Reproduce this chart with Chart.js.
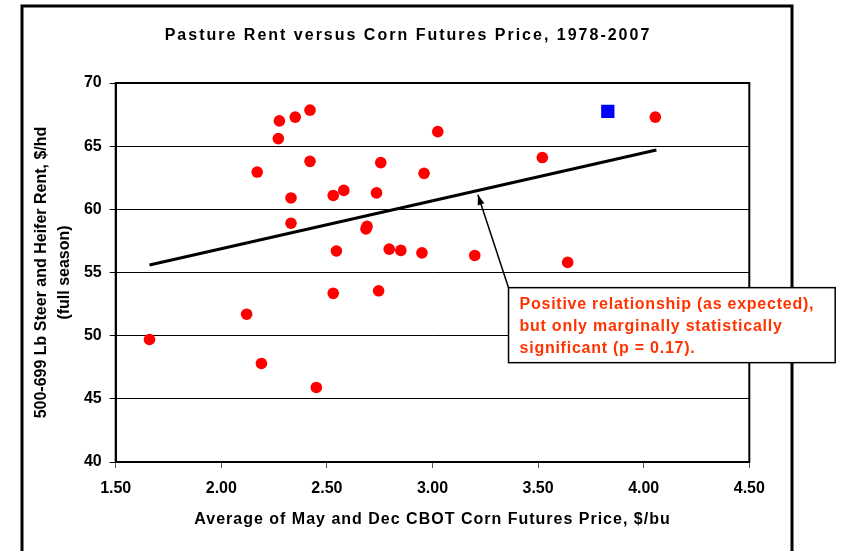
<!DOCTYPE html>
<html>
<head>
<meta charset="utf-8">
<script src="https://cdn.jsdelivr.net/npm/chart.js@4.4.1/dist/chart.umd.min.js"></script>
<style>
  html, body { margin: 0; padding: 0; background: #fff; }
</style>
</head>
<body>
<canvas id="myChart" width="842" height="551"></canvas>
<script>
// corn futures price ($/bu) and pasture rent ($/hd), 1978-2007
let priceX = [1.66, 2.12, 2.17, 2.19, 2.27, 2.275, 2.33, 2.33, 2.35, 2.42,
  2.42, 2.45, 2.53, 2.53, 2.545, 2.58, 2.685, 2.69, 2.735, 2.745,
  2.755, 2.795, 2.85, 2.95, 2.96, 3.025, 3.20, 3.52, 3.64, 4.055];
let rentY = [49.7, 51.7, 62.95, 47.8, 65.6, 67.0, 60.9, 58.9, 67.3, 67.85,
  63.8, 45.9, 61.1, 53.35, 56.7, 61.5, 58.45, 58.65, 61.3, 53.55,
  63.7, 56.85, 56.75, 56.55, 62.85, 66.15, 56.35, 64.1, 55.8, 67.3];

// the highlighted (blue square) observation
let highX = [3.83];
let highY = [67.75];

// fitted trend line end points
let trendX = [1.66, 4.06];
let trendY = [55.6, 64.7];

let xTicks = [1.5, 2.0, 2.5, 3.0, 3.5, 4.0, 4.5];
let yTicks = [40, 45, 50, 55, 60, 65, 70];

let titleText = 'Pasture Rent versus Corn Futures Price, 1978-2007';
let xTitle = 'Average of May and Dec CBOT Corn Futures Price, $/bu';
let yTitle = ['500-699 Lb Steer and Heifer Rent, $/hd', '(full season)'];
let noteLines = ['Positive relationship (as expected),', 'but only marginally statistically', 'significant (p = 0.17).'];
let noteAt = [3.36, 53.8];     // top-left corner of the note, in data units
let arrowTip = [3.215, 61.15]; // where the arrow points on the trend line

const FONT = '"Liberation Sans", Arial, sans-serif';

function pairs(xs, ys) {
  let out = [];
  for (let i = 0; i < xs.length; i++) {
    out.push({ x: xs[i], y: ys[i] });
  }
  return out;
}

const framePlugin = {
  id: 'frame',
  afterDraw(chart) {
    const c = chart.ctx;
    const a = chart.chartArea;
    const xs = chart.scales.x;
    const ys = chart.scales.y;
    c.save();

    // outer frame of the slide
    c.strokeStyle = '#000';
    c.lineWidth = 3;
    c.beginPath();
    c.moveTo(22, 560);
    c.lineTo(22, 6);
    c.lineTo(792, 6);
    c.lineTo(792, 560);
    c.stroke();

    // title
    c.fillStyle = '#000';
    c.font = 'bold 16px ' + FONT;
    c.textAlign = 'center';
    c.textBaseline = 'middle';
    c.letterSpacing = '2px';
    c.fillText(titleText, 408, 36);

    // x axis title
    c.letterSpacing = '1px';
    c.fillText(xTitle, (a.left + a.right) / 2, 520);

    // plot area border
    c.lineWidth = 2;
    c.strokeRect(a.left, a.top, a.right - a.left, a.bottom - a.top);

    // arrow from the note to the trend line
    let x0 = xs.getPixelForValue(noteAt[0]);
    let y0 = ys.getPixelForValue(noteAt[1]);
    let x1 = xs.getPixelForValue(arrowTip[0]);
    let y1 = ys.getPixelForValue(arrowTip[1]);
    c.lineWidth = 1.5;
    c.beginPath();
    c.moveTo(x0, y0);
    c.lineTo(x1, y1);
    c.stroke();
    let ang = Math.atan2(y1 - y0, x1 - x0);
    c.beginPath();
    c.moveTo(x1, y1);
    c.lineTo(x1 - 10 * Math.cos(ang) + 3.5 * Math.sin(ang), y1 - 10 * Math.sin(ang) - 3.5 * Math.cos(ang));
    c.lineTo(x1 - 10 * Math.cos(ang) - 3.5 * Math.sin(ang), y1 - 10 * Math.sin(ang) + 3.5 * Math.cos(ang));
    c.closePath();
    c.fill();

    // note box
    c.letterSpacing = '0.75px';
    let w = 0;
    for (let i = 0; i < noteLines.length; i++) {
      w = Math.max(w, c.measureText(noteLines[i]).width);
    }
    let boxW = w + 32;
    let boxH = 75;
    c.fillStyle = '#fff';
    c.fillRect(x0, y0, boxW, boxH);
    c.lineWidth = 1.5;
    c.strokeRect(x0, y0, boxW, boxH);
    c.fillStyle = '#ff3300';
    c.textAlign = 'left';
    for (let i = 0; i < noteLines.length; i++) {
      c.fillText(noteLines[i], x0 + 11, y0 + 17 + i * 22);
    }
    c.restore();
  }
};

const ctx = document.getElementById('myChart').getContext('2d');

const myChart = new Chart(ctx, {
  type: 'scatter',
  data: {
    datasets: [
      {
        label: 'Rent',
        data: pairs(priceX, rentY),
        backgroundColor: '#ff0000',
        borderColor: '#ff0000',
        borderWidth: 0,
        pointRadius: 5.8,
        pointHoverRadius: 5.8,
        order: 0
      },
      {
        label: '2008',
        data: pairs(highX, highY),
        pointStyle: 'rect',
        backgroundColor: '#0000ff',
        borderColor: '#0000ff',
        borderWidth: 0,
        pointRadius: 9.4,
        pointHoverRadius: 9.4,
        order: 0
      },
      {
        label: 'Trend',
        type: 'line',
        data: pairs(trendX, trendY),
        borderColor: '#000',
        borderWidth: 3,
        pointRadius: 0,
        fill: false,
        order: 1
      }
    ]
  },
  options: {
    responsive: false,
    animation: false,
    events: [],
    layout: {
      padding: { left: 22, right: 92.7, top: 83, bottom: 0 }
    },
    plugins: {
      legend: { display: false },
      tooltip: { enabled: false },
      title: { display: false }
    },
    scales: {
      x: {
        type: 'linear',
        min: 1.5,
        max: 4.5,
        afterBuildTicks: (scale) => {
          scale.ticks = xTicks.map(v => ({ value: v }));
        },
        afterFit: (scale) => { scale.height = 89; },
        ticks: {
          color: '#000',
          padding: 11,
          maxRotation: 0,
          font: { family: FONT, size: 16, weight: 'bold' },
          callback: (v) => Number(v).toFixed(2)
        },
        grid: {
          drawOnChartArea: false,
          color: '#555',
          tickLength: 6
        },
        border: { color: '#000', width: 2 },
        title: { display: false }
      },
      y: {
        min: 40,
        max: 70,
        afterBuildTicks: (scale) => {
          scale.ticks = yTicks.map(v => ({ value: v }));
        },
        afterFit: (scale) => { scale.width = 93.7; },
        ticks: {
          color: '#000',
          padding: 8,
          font: { family: FONT, size: 16, weight: 'bold' }
        },
        grid: {
          color: '#000',
          lineWidth: 1,
          tickLength: 6
        },
        border: { color: '#000', width: 2 },
        title: {
          display: true,
          text: yTitle,
          color: '#000',
          padding: { top: 8, bottom: 0 },
          font: { family: FONT, size: 16, weight: 'bold', lineHeight: 1.45 }
        }
      }
    }
  },
  plugins: [framePlugin]
});
</script>
</body>
</html>
